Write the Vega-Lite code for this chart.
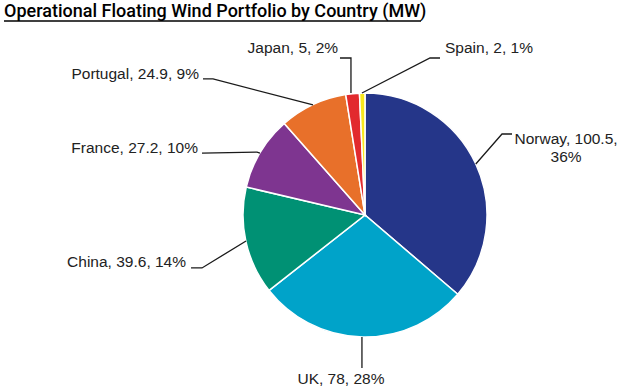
{
  "$schema": "https://vega.github.io/schema/vega-lite/v6.json",
  "width": 624,
  "height": 391,
  "autosize": "none",
  "padding": 0,
  "background": "white",
  "title": {
    "text": "Operational Floating Wind Portfolio by Country (MW)",
    "anchor": "start",
    "frame": "group",
    "orient": "top",
    "offset": -35,
    "baseline": "alphabetic",
    "dx": 4,
    "font": "Roboto",
    "fontWeight": 500,
    "fontSize": 18,
    "color": "#000000"
  },
  "config": {"view": {"stroke": null}},
  "datasets": {
    "shares": [
      {"country": "Norway", "mw": 100.5, "rank": 1},
      {"country": "UK", "mw": 78, "rank": 2},
      {"country": "China", "mw": 39.6, "rank": 3},
      {"country": "France", "mw": 27.2, "rank": 4},
      {"country": "Portugal", "mw": 24.9, "rank": 5},
      {"country": "Japan", "mw": 5, "rank": 6},
      {"country": "Spain", "mw": 2, "rank": 7}
    ],
    "leaders": [
      {"country": "Norway", "i": 1, "u": 0.908, "v": 0.418},
      {"country": "Norway", "i": 2, "u": 1.123, "v": 0.664},
      {"country": "Norway", "i": 3, "u": 1.205, "v": 0.664},
      {"country": "UK", "i": 1, "u": -0.025, "v": -1.0},
      {"country": "UK", "i": 2, "u": -0.025, "v": -1.254},
      {"country": "China", "i": 1, "u": -0.975, "v": -0.213},
      {"country": "China", "i": 2, "u": -1.336, "v": -0.434},
      {"country": "China", "i": 3, "u": -1.426, "v": -0.434},
      {"country": "France", "i": 1, "u": -0.861, "v": 0.508},
      {"country": "France", "i": 2, "u": -0.885, "v": 0.516},
      {"country": "France", "i": 3, "u": -1.336, "v": 0.508},
      {"country": "Portugal", "i": 1, "u": -0.426, "v": 0.902},
      {"country": "Portugal", "i": 2, "u": -1.246, "v": 1.115},
      {"country": "Portugal", "i": 3, "u": -1.328, "v": 1.115},
      {"country": "Japan", "i": 1, "u": -0.115, "v": 1.0},
      {"country": "Japan", "i": 2, "u": -0.115, "v": 1.287},
      {"country": "Japan", "i": 3, "u": -0.205, "v": 1.287},
      {"country": "Spain", "i": 1, "u": -0.025, "v": 1.0},
      {"country": "Spain", "i": 2, "u": 0.533, "v": 1.287},
      {"country": "Spain", "i": 3, "u": 0.615, "v": 1.287}
    ],
    "labels": [
      {"country": "Norway", "label": "Norway, 100.5,\n36%", "u": 1.648, "v": 0.623},
      {"country": "UK", "label": "UK, 78, 28%", "u": -0.197, "v": -1.344},
      {"country": "China", "label": "China, 39.6, 14%", "u": -1.467, "v": -0.385},
      {"country": "France", "label": "France, 27.2, 10%", "u": -1.369, "v": 0.549},
      {"country": "Portugal", "label": "Portugal, 24.9, 9%", "u": -1.361, "v": 1.156},
      {"country": "Japan", "label": "Japan, 5, 2%", "u": -0.221, "v": 1.369},
      {"country": "Spain", "label": "Spain, 2, 1%", "u": 0.656, "v": 1.369}
    ],
    "underline": [
      {"u0": -2.959, "u1": 0.459, "v": 1.59}
    ]
  },
  "layer": [
    {
      "data": {"name": "shares"},
      "mark": {"type": "arc", "outerRadius": 122, "stroke": "white", "strokeWidth": 1.5},
      "encoding": {
        "theta": {"field": "mw", "type": "quantitative", "stack": true},
        "order": {"field": "rank", "type": "quantitative"},
        "color": {
          "field": "country",
          "type": "nominal",
          "scale": {
            "domain": ["Norway", "UK", "China", "France", "Portugal", "Japan", "Spain"],
            "range": ["#253689", "#00A3C9", "#009174", "#7E3590", "#E8702A", "#E22A2E", "#F8E81C"]
          },
          "legend": null
        },
        "x": {"datum": 0, "type": "quantitative", "scale": {"domain": [-2.9918, 2.123], "nice": false, "zero": false}, "axis": null},
        "y": {"datum": 0, "type": "quantitative", "scale": {"domain": [-1.4426, 1.7623], "nice": false, "zero": false}, "axis": null}
      }
    },
    {
      "data": {"name": "leaders"},
      "mark": {"type": "line", "color": "#1a1a1a", "strokeWidth": 1.3, "interpolate": "linear"},
      "encoding": {
        "x": {"field": "u", "type": "quantitative", "scale": {"domain": [-2.9918, 2.123], "nice": false, "zero": false}, "axis": null},
        "y": {"field": "v", "type": "quantitative", "scale": {"domain": [-1.4426, 1.7623], "nice": false, "zero": false}, "axis": null},
        "detail": {"field": "country"},
        "order": {"field": "i", "type": "quantitative"}
      }
    },
    {
      "data": {"name": "labels"},
      "transform": [{"filter": {"field": "country", "oneOf": ["China", "France", "Portugal", "Japan"]}}],
      "mark": {"type": "text", "align": "right", "baseline": "middle", "font": "Liberation Sans", "fontSize": 15.5, "color": "#222222"},
      "encoding": {
        "x": {"field": "u", "type": "quantitative", "scale": {"domain": [-2.9918, 2.123], "nice": false, "zero": false}, "axis": null},
        "y": {"field": "v", "type": "quantitative", "scale": {"domain": [-1.4426, 1.7623], "nice": false, "zero": false}, "axis": null},
        "text": {"field": "label"}
      }
    },
    {
      "data": {"name": "labels"},
      "transform": [{"filter": {"field": "country", "oneOf": ["Spain"]}}],
      "mark": {"type": "text", "align": "left", "baseline": "middle", "font": "Liberation Sans", "fontSize": 15.5, "color": "#222222"},
      "encoding": {
        "x": {"field": "u", "type": "quantitative", "scale": {"domain": [-2.9918, 2.123], "nice": false, "zero": false}, "axis": null},
        "y": {"field": "v", "type": "quantitative", "scale": {"domain": [-1.4426, 1.7623], "nice": false, "zero": false}, "axis": null},
        "text": {"field": "label"}
      }
    },
    {
      "data": {"name": "labels"},
      "transform": [{"filter": {"field": "country", "oneOf": ["Norway", "UK"]}}],
      "mark": {"type": "text", "align": "center", "baseline": "middle", "lineBreak": "\n", "lineHeight": 18, "font": "Liberation Sans", "fontSize": 15.5, "color": "#222222"},
      "encoding": {
        "x": {"field": "u", "type": "quantitative", "scale": {"domain": [-2.9918, 2.123], "nice": false, "zero": false}, "axis": null},
        "y": {"field": "v", "type": "quantitative", "scale": {"domain": [-1.4426, 1.7623], "nice": false, "zero": false}, "axis": null},
        "text": {"field": "label"}
      }
    },
    {
      "data": {"name": "underline"},
      "mark": {"type": "rule", "color": "#000000", "strokeWidth": 1.5},
      "encoding": {
        "x": {"field": "u0", "type": "quantitative", "scale": {"domain": [-2.9918, 2.123], "nice": false, "zero": false}, "axis": null},
        "x2": {"field": "u1"},
        "y": {"field": "v", "type": "quantitative", "scale": {"domain": [-1.4426, 1.7623], "nice": false, "zero": false}, "axis": null}
      }
    }
  ]
}
